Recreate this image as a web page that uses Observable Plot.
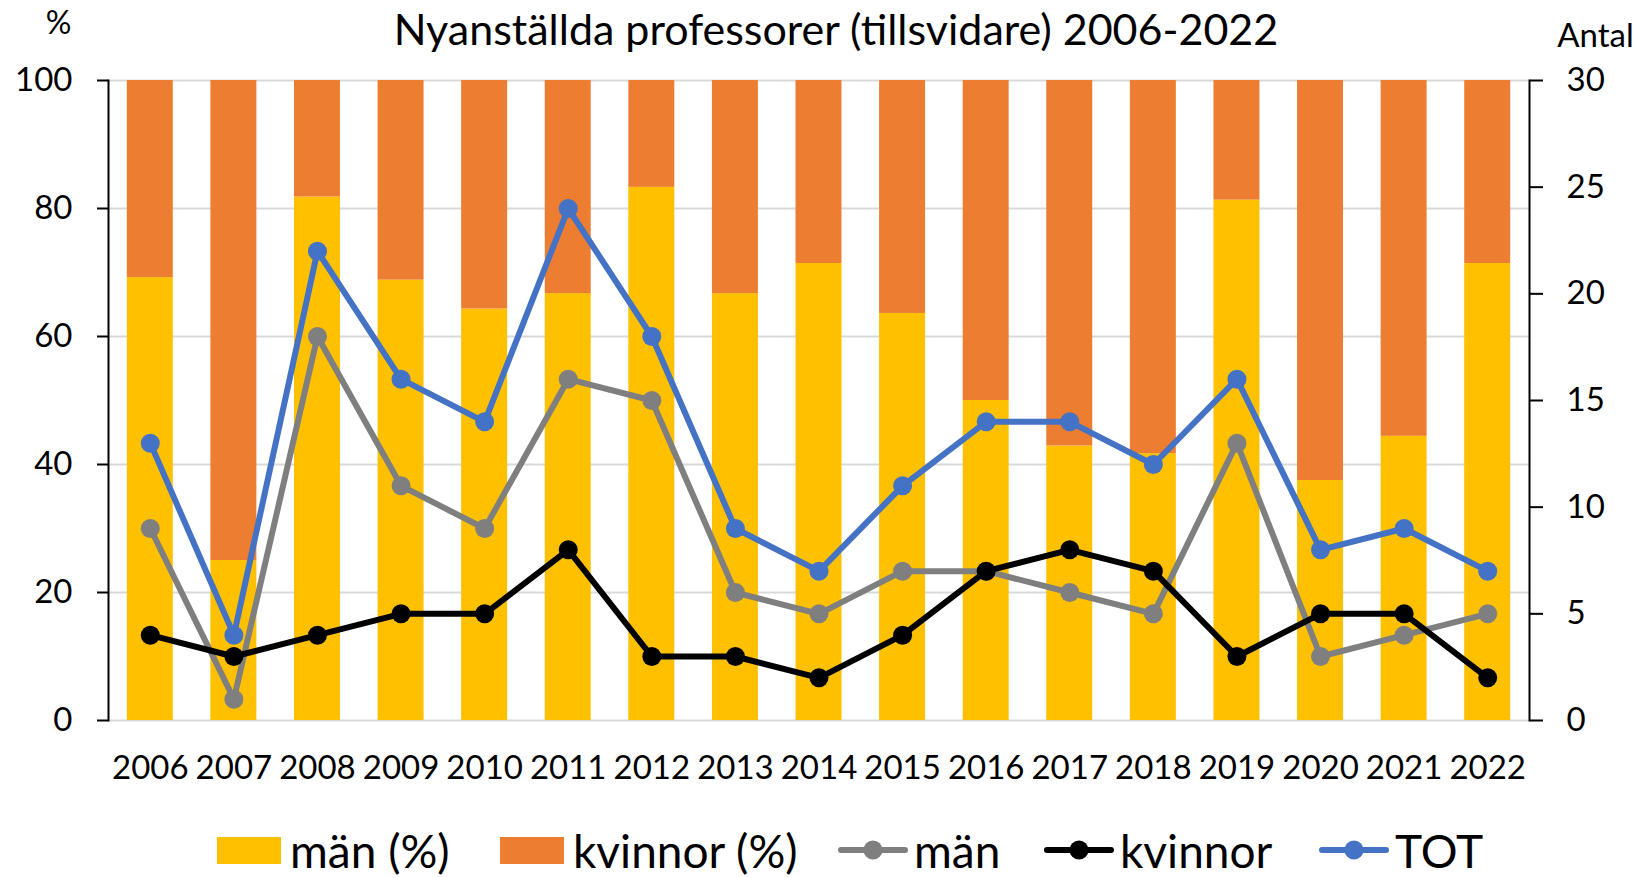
<!DOCTYPE html>
<html><head><meta charset="utf-8">
<script src="https://cdn.jsdelivr.net/npm/d3@7"></script>
<script src="https://cdn.jsdelivr.net/npm/@observablehq/plot@0.6"></script>
<style>
body{margin:0;background:#fff;font-family:Lato,"Open Sans",sans-serif;}
#wrap{position:relative;width:1642px;height:878px;overflow:hidden;}
#chart{position:absolute;left:0;top:0;}
#legend{position:absolute;left:0;top:822px;width:1642px;height:56px;font-size:46px;color:#000;white-space:nowrap;}
.item{position:absolute;top:0;height:56px;display:flex;align-items:center;}
.sw{width:64px;height:27px;margin-right:9px;}
.ln{margin-right:6px;}
</style></head><body>
<div id="wrap"><div id="chart"></div><div id="legend"></div></div>
<script>
const title = "Nyanställda professorer (tillsvidare) 2006-2022";
const years = ["2006","2007","2008","2009","2010","2011","2012","2013","2014","2015","2016","2017","2018","2019","2020","2021","2022"];
const manPct     = [69.2, 25.0, 81.8, 68.8, 64.3, 66.7, 83.3, 66.7, 71.4, 63.6, 50.0, 42.9, 41.7, 81.3, 37.5, 44.4, 71.4];
const kvinnorPct = [30.8, 75.0, 18.2, 31.2, 35.7, 33.3, 16.7, 33.3, 28.6, 36.4, 50.0, 57.1, 58.3, 18.7, 62.5, 55.6, 28.6];
const manN     = [9, 1, 18, 11, 9, 16, 15, 6, 5, 7, 7, 6, 5, 13, 3, 4, 5];
const kvinnorN = [4, 3, 4, 5, 5, 8, 3, 3, 2, 4, 7, 8, 7, 3, 5, 5, 2];
const totN     = [13, 4, 22, 16, 14, 24, 18, 9, 7, 11, 14, 14, 12, 16, 8, 9, 7];
const leftTicks = [0, 20, 40, 60, 80, 100];
const rightTicks = [0, 5, 10, 15, 20, 25, 30];
const rightMax = 30;

const barGroups = ["män (%)", "kvinnor (%)"];
const barColors = ["#FFC000", "#ED7D31"];
const lineSeries = [
  {name: "män", values: manN, color: "#7F7F7F"},
  {name: "kvinnor", values: kvinnorN, color: "#000000"},
  {name: "TOT", values: totN, color: "#4472C4"}
];

const bars = [];
years.forEach((y, i) => {
  bars.push({year: y, group: barGroups[0], value: manPct[i]});
  bars.push({year: y, group: barGroups[1], value: kvinnorPct[i]});
});
const toLeft = v => v * 100 / rightMax;

const lineMarks = [];
lineSeries.forEach(s => {
  const rows = years.map((y, i) => ({year: y, n: s.values[i]}));
  lineMarks.push(Plot.line(rows, {x: "year", y: d => toLeft(d.n), stroke: s.color, strokeWidth: 6, strokeLinejoin: "round"}));
  lineMarks.push(Plot.dot(rows, {x: "year", y: d => toLeft(d.n), r: 9.5, fill: s.color, stroke: "none"}));
});

const chart = Plot.plot({
  width: 1642,
  height: 810,
  marginLeft: 108,
  marginRight: 113,
  marginTop: 80,
  marginBottom: 90,
  style: {fontFamily: "Lato, 'Open Sans', sans-serif", color: "#000", background: "#fff", overflow: "visible"},
  x: {type: "band", domain: years, paddingInner: 0.45, paddingOuter: 0.225, round: false},
  y: {domain: [0, 100]},
  color: {domain: barGroups, range: barColors},
  marks: [
    Plot.ruleY(leftTicks, {stroke: "#D9D9D9", strokeWidth: 2}),
    Plot.barY(bars, {x: "year", y: "value", fill: "group", order: barGroups}),
    ...lineMarks,
    Plot.frame({anchor: "left", stroke: "#000", strokeWidth: 2}),
    Plot.frame({anchor: "right", stroke: "#000", strokeWidth: 2}),
    Plot.axisY(leftTicks, {anchor: "left", tickSize: 11, tickPadding: 25, fontSize: 33, strokeWidth: 2, label: null}),
    Plot.axisY(rightTicks.map(toLeft), {anchor: "right", tickSize: 13, tickPadding: 24, fontSize: 33, strokeWidth: 2, label: null, tickFormat: d => String(Math.round(d * rightMax / 100))}),
    Plot.axisX({tickSize: 0, tickPadding: 35, fontSize: 33, label: null}),
    Plot.text([title], {frameAnchor: "top", lineAnchor: "middle", dx: 17, dy: -49, fontSize: 43, fill: "#000"}),
    Plot.text(["%"], {frameAnchor: "top-left", textAnchor: "middle", lineAnchor: "middle", dx: -50, dy: -57, fontSize: 32, fill: "#000"}),
    Plot.text(["Antal"], {frameAnchor: "top-right", textAnchor: "middle", lineAnchor: "middle", dx: 66, dy: -44, fontSize: 33, fill: "#000"})
  ]
});
document.getElementById("chart").appendChild(chart);

const legend = document.getElementById("legend");
const legendLeft = [217, 500, 838, 1044, 1319];
barGroups.forEach((g, i) => {
  const it = document.createElement("div"); it.className = "item";
  it.style.left = legendLeft[i] + "px";
  it.innerHTML = `<div class="sw" style="background:${barColors[i]}"></div><span>${g}</span>`;
  legend.appendChild(it);
});
lineSeries.forEach((s, i) => {
  const it = document.createElement("div"); it.className = "item";
  it.style.left = legendLeft[barGroups.length + i] + "px";
  it.innerHTML = `<svg class="ln" width="70" height="24"><line x1="3" y1="12" x2="67" y2="12" stroke="${s.color}" stroke-width="6" stroke-linecap="round"/><circle cx="35" cy="12" r="9.5" fill="${s.color}"/></svg><span>${s.name}</span>`;
  legend.appendChild(it);
});
</script>
</body></html>
